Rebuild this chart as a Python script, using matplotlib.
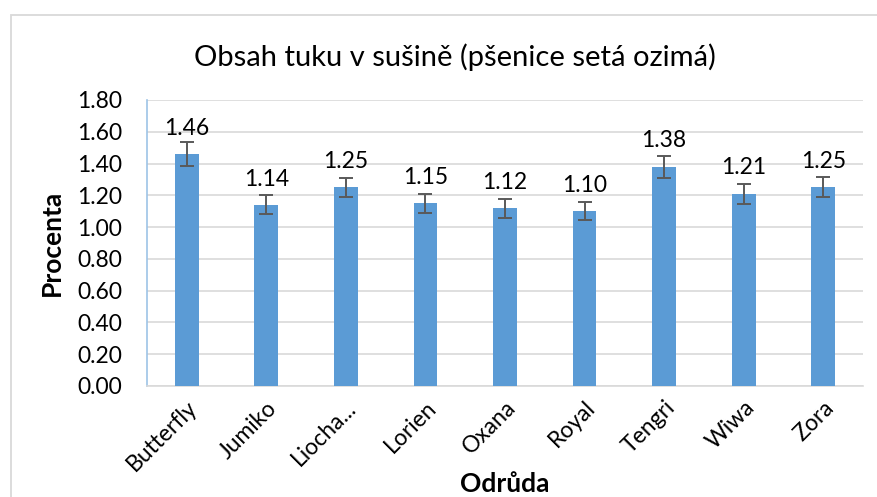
import matplotlib
matplotlib.use("Agg")
import matplotlib.pyplot as plt
from matplotlib.patches import Rectangle

categories = ["Butterfly", "Jumiko", "Liocha...", "Lorien", "Oxana", "Royal", "Tengri", "Wiwa", "Zora"]
values = [1.46, 1.14, 1.25, 1.15, 1.12, 1.10, 1.38, 1.21, 1.25]
errors = [0.075, 0.06, 0.06, 0.06, 0.06, 0.055, 0.07, 0.063, 0.063]
yticks = [0.0, 0.2, 0.4, 0.6, 0.8, 1.0, 1.2, 1.4, 1.6, 1.8]

plt.rcParams['font.family'] = ['Lato', 'DejaVu Sans']

fig = plt.figure(figsize=(8.78, 4.97), dpi=100)
W, H = 878, 497
ax = fig.add_axes([147 / W, 1 - 386 / H, (863 - 147) / W, (386 - 100) / H])

x = list(range(len(categories)))
ax.bar(x, values, width=0.30, color="#5B9BD5", zorder=3,
       yerr=errors, error_kw=dict(ecolor="#595959", elinewidth=1.4, capsize=5, capthick=1.4, zorder=4))

for xi, v in zip(x, values):
    ax.annotate(f"{v:.2f}", (xi, v), xytext=(0, 11), textcoords="offset points",
                ha="center", va="bottom", fontsize=16.5, color="#000000")

ax.set_xlim(-0.5, len(categories) - 0.5)
ax.set_ylim(0, 1.8)
ax.set_yticks(yticks)
ax.set_yticklabels([f"{t:.2f}" for t in yticks], fontsize=16.5)
ax.set_xticks(x)
ax.set_xticklabels(categories, rotation=45, ha="right", rotation_mode="anchor", fontsize=16.5)
ax.tick_params(axis="both", length=0)
ax.tick_params(axis="y", pad=18)
ax.tick_params(axis="x", pad=8)

ax.grid(axis="y", color="#D9D9D9", linewidth=1.2, zorder=0)
for s in ["top", "right"]:
    ax.spines[s].set_visible(False)
ax.spines["left"].set_color("#9DC3E6")
ax.spines["left"].set_linewidth(1.2)
ax.spines["bottom"].set_color("#D9D9D9")
ax.spines["bottom"].set_linewidth(1.2)

fig.text(52 / W, 1 - 243 / H, "Procenta", rotation=90, ha="center", va="center",
         fontsize=19, fontweight="bold")
fig.text(505 / W, 1 - 484 / H, "Odrůda", ha="center", va="center",
         fontsize=19, fontweight="bold")

fig.text(455 / W, 1 - 57 / H, "Obsah tuku v sušině (pšenice setá ozimá)", ha="center", va="center", fontsize=21)

fig.patches.append(Rectangle((11 / W, -0.1), 1.2, 1 - 15 / H + 0.1, transform=fig.transFigure,
                             fill=False, edgecolor="#D9D9D9", linewidth=1.3))

fig.savefig("out.png", dpi=100)
